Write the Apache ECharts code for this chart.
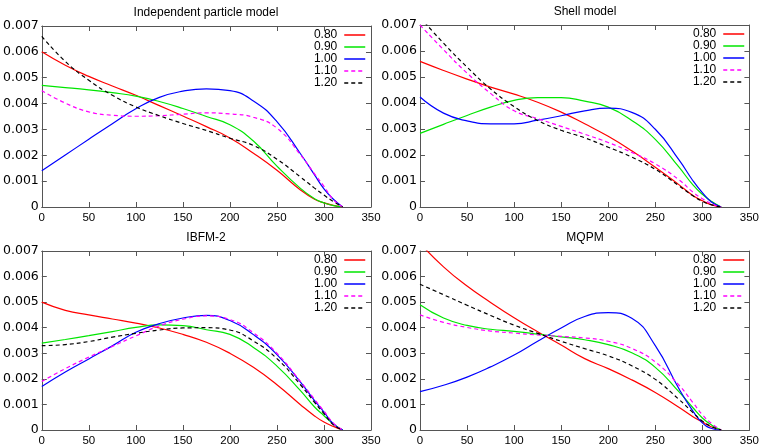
<!DOCTYPE html>
<html>
<head>
<meta charset="utf-8">
<script src="https://cdn.jsdelivr.net/npm/echarts@6/dist/echarts.min.js"></script>
<style>
  html, body { margin: 0; padding: 0; background: #fff; }
  #main { width: 762px; height: 447px; }
</style>
</head>
<body>
<div id="main"></div>
<script>
// Sample positions shared by every curve
const xs = [0, 25, 50, 75, 100, 125, 150, 175, 200, 225, 250, 275, 290, 300, 310, 320];

// Tick labels
const xTicks = [0, 50, 100, 150, 200, 250, 300, 350];
const yTicks = ['0', '0.001', '0.002', '0.003', '0.004', '0.005', '0.006', '0.007'];

// Curve labels
const seriesNames = ['0.80', '0.90', '1.00', '1.10', '1.20'];

// Panel titles
const panelTitles = ['Independent particle model', 'Shell model', 'IBFM-2', 'MQPM'];

// Independent particle model
const ipm080 = [0.0060, 0.00548, 0.00505, 0.00468, 0.00432, 0.00392, 0.00352, 0.00311, 0.00267, 0.00208, 0.00142, 0.00066, 0.0003, 0.00016, 0.00006, 0];
const ipm090 = [0.0047, 0.00462, 0.00453, 0.00442, 0.00429, 0.00408, 0.00381, 0.0035, 0.00318, 0.00255, 0.00158, 0.00072, 0.00032, 0.00016, 0.00005, 0];
const ipm100 = [0.0014, 0.00201, 0.00262, 0.00322, 0.0038, 0.00424, 0.00448, 0.00457, 0.0045, 0.0041, 0.0033, 0.00206, 0.00124, 0.0007, 0.0003, 0];
const ipm110 = [0.0045, 0.00402, 0.00368, 0.00355, 0.00351, 0.00353, 0.00359, 0.00364, 0.0036, 0.00347, 0.00305, 0.00202, 0.00128, 0.0008, 0.00028, 0];
const ipm120 = [0.0066, 0.00563, 0.0049, 0.00432, 0.00387, 0.00353, 0.00323, 0.00296, 0.00266, 0.00238, 0.00185, 0.00116, 0.00073, 0.00046, 0.00021, 0];

// Shell model
const shell080 = [0.0056, 0.00525, 0.00492, 0.00461, 0.00434, 0.00403, 0.00365, 0.0032, 0.00272, 0.00216, 0.00153, 0.00086, 0.00044, 0.00024, 0.00008, 0];
const shell090 = [0.00283, 0.00318, 0.00352, 0.00384, 0.0041, 0.00421, 0.00421, 0.00407, 0.00384, 0.00333, 0.0026, 0.00154, 0.00085, 0.00049, 0.00021, 0];
const shell100 = [0.00423, 0.00361, 0.00331, 0.0032, 0.0032, 0.00334, 0.00351, 0.0037, 0.0038, 0.00364, 0.00299, 0.00182, 0.00101, 0.00055, 0.00018, 0];
const shell110 = [0.0070, 0.00605, 0.00515, 0.00437, 0.0037, 0.0034, 0.0031, 0.0028, 0.00248, 0.0021, 0.00166, 0.00105, 0.00057, 0.00032, 0.00012, 0];
const shell120 = [0.0073, 0.0063, 0.00538, 0.00454, 0.00386, 0.00333, 0.00295, 0.00266, 0.0023, 0.00192, 0.00145, 0.00082, 0.00043, 0.00022, 0.00008, 0];

// IBFM-2
const ibfm080 = [0.0050, 0.00468, 0.0045, 0.00434, 0.00418, 0.00399, 0.00374, 0.00343, 0.003, 0.00245, 0.00177, 0.00099, 0.00055, 0.00031, 0.00014, 0];
const ibfm090 = [0.0034, 0.00354, 0.00369, 0.00385, 0.00401, 0.00411, 0.00408, 0.00392, 0.00374, 0.00323, 0.0025, 0.00154, 0.0009, 0.00056, 0.00024, 0];
const ibfm100 = [0.0017, 0.00227, 0.00278, 0.00329, 0.00382, 0.00416, 0.00438, 0.00448, 0.00428, 0.00373, 0.00295, 0.00187, 0.00115, 0.0007, 0.00024, 0];
const ibfm110 = [0.0019, 0.0024, 0.00285, 0.00327, 0.00368, 0.00407, 0.00433, 0.00446, 0.00432, 0.0038, 0.003, 0.0019, 0.0012, 0.00074, 0.00027, 0];
const ibfm120 = [0.0033, 0.00334, 0.00346, 0.00363, 0.00378, 0.00391, 0.00399, 0.004, 0.00391, 0.00348, 0.00279, 0.00177, 0.00108, 0.00064, 0.0002, 0];

// MQPM
const mqpm080 = [0.0073, 0.00638, 0.00563, 0.00499, 0.00439, 0.00384, 0.00332, 0.00279, 0.0024, 0.00196, 0.00147, 0.00089, 0.00052, 0.00031, 0.00012, 0];
const mqpm090 = [0.0049, 0.00438, 0.00409, 0.00394, 0.00386, 0.00375, 0.00364, 0.00353, 0.00334, 0.00302, 0.00245, 0.0015, 0.00087, 0.00047, 0.00019, 0];
const mqpm100 = [0.0015, 0.00175, 0.00207, 0.00247, 0.00293, 0.00347, 0.00399, 0.00444, 0.00459, 0.00437, 0.0033, 0.00162, 0.00074, 0.00028, 0.00006, 0];
const mqpm110 = [0.0045, 0.00421, 0.00401, 0.00387, 0.00379, 0.00372, 0.00366, 0.0036, 0.00347, 0.00319, 0.00266, 0.00176, 0.00107, 0.0006, 0.00025, 0];
const mqpm120 = [0.0057, 0.00529, 0.00488, 0.00448, 0.0041, 0.00378, 0.00347, 0.00318, 0.0029, 0.00251, 0.00198, 0.0012, 0.00068, 0.00035, 0.00013, 0];

const panelData = [
  [ipm080, ipm090, ipm100, ipm110, ipm120],
  [shell080, shell090, shell100, shell110, shell120],
  [ibfm080, ibfm090, ibfm100, ibfm110, ibfm120],
  [mqpm080, mqpm090, mqpm100, mqpm110, mqpm120]
];

// Layout of the four plot frames
const frames = [
  { left: 41, top: 26, width: 330, height: 181 },
  { left: 420, top: 25, width: 330, height: 182 },
  { left: 41, top: 251, width: 330, height: 182 },
  { left: 420, top: 251, width: 330, height: 181 }
];
const lineStyles = [
  { color: '#ff0000', type: 'solid' },
  { color: '#00e600', type: 'solid' },
  { color: '#0000ff', type: 'solid' },
  { color: '#ff00ff', type: [4, 3] },
  { color: '#000000', type: [4, 3] }
];

const frameColor = '#555';
const labelFont = 'Liberation Sans';

const grid = [], xAxis = [], yAxis = [], series = [], legend = [], graphic = [];

frames.forEach((f, p) => {
  grid.push({ left: f.left, top: f.top, width: f.width, height: f.height, containLabel: false });

  const xBase = {
    type: 'value', gridIndex: p,
    min: xTicks[0], max: xTicks[xTicks.length - 1], interval: xTicks[1] - xTicks[0],
    splitLine: { show: false },
    axisLine: { show: true, onZero: false, lineStyle: { color: frameColor, width: 1 } },
    axisTick: { show: true, inside: true, length: 5, lineStyle: { color: frameColor } }
  };
  xAxis.push(Object.assign({}, xBase, {
    position: 'bottom',
    axisLabel: { show: true, margin: 5, color: '#000', fontSize: 11.5, fontFamily: labelFont }
  }));
  xAxis.push(Object.assign({}, xBase, { position: 'top', axisLabel: { show: false } }));

  const yBase = {
    type: 'value', gridIndex: p,
    min: 0, max: Number(yTicks[yTicks.length - 1]), interval: Number(yTicks[1]),
    splitLine: { show: false },
    axisLine: { show: true, onZero: false, lineStyle: { color: frameColor, width: 1 } },
    axisTick: { show: true, inside: true, length: 5, lineStyle: { color: frameColor } }
  };
  yAxis.push(Object.assign({}, yBase, {
    position: 'left',
    axisLabel: {
      show: true, margin: 3, color: '#000', fontSize: 12.5, fontFamily: 'DejaVu Sans',
      formatter: v => yTicks[Math.round(v / Number(yTicks[1]))]
    }
  }));
  yAxis.push(Object.assign({}, yBase, { position: 'right', axisLabel: { show: false } }));

  panelData[p].forEach((vals, s) => {
    series.push({
      name: seriesNames[s],
      type: 'line',
      xAxisIndex: p * 2,
      yAxisIndex: p * 2,
      data: xs.map((x, i) => [x, vals[i]]),
      smooth: 0.5,
      showSymbol: false,
      symbol: 'none',
      clip: true,
      lineStyle: { width: 1.2, color: lineStyles[s].color, type: lineStyles[s].type },
      itemStyle: { color: lineStyles[s].color },
      silent: true,
      animation: false
    });
  });

  legend.push({
    data: seriesNames.slice(),
    orient: 'vertical',
    align: 'right',
    right: 762 - (f.left + f.width) + 5,
    top: f.top + 3,
    itemWidth: 21,
    itemHeight: 10,
    itemGap: 0,
    padding: 0,
    selectedMode: false,
    itemStyle: { opacity: 0 },
    lineStyle: { width: 1.5 },
    textStyle: { fontSize: 12, lineHeight: 12, color: '#000', fontFamily: labelFont, padding: [0, 2, 0, 0] }
  });

  graphic.push({
    type: 'text',
    x: f.left + f.width / 2,
    y: f.top - 13,
    style: {
      text: panelTitles[p],
      fill: '#000',
      font: '12px "Liberation Sans"',
      textAlign: 'center',
      textVerticalAlign: 'middle'
    }
  });
});

const chart = echarts.init(document.getElementById('main'), null, { renderer: 'canvas' });
chart.setOption({
  animation: false,
  backgroundColor: '#fff',
  grid, xAxis, yAxis, series, legend, graphic
});
</script>
</body>
</html>
